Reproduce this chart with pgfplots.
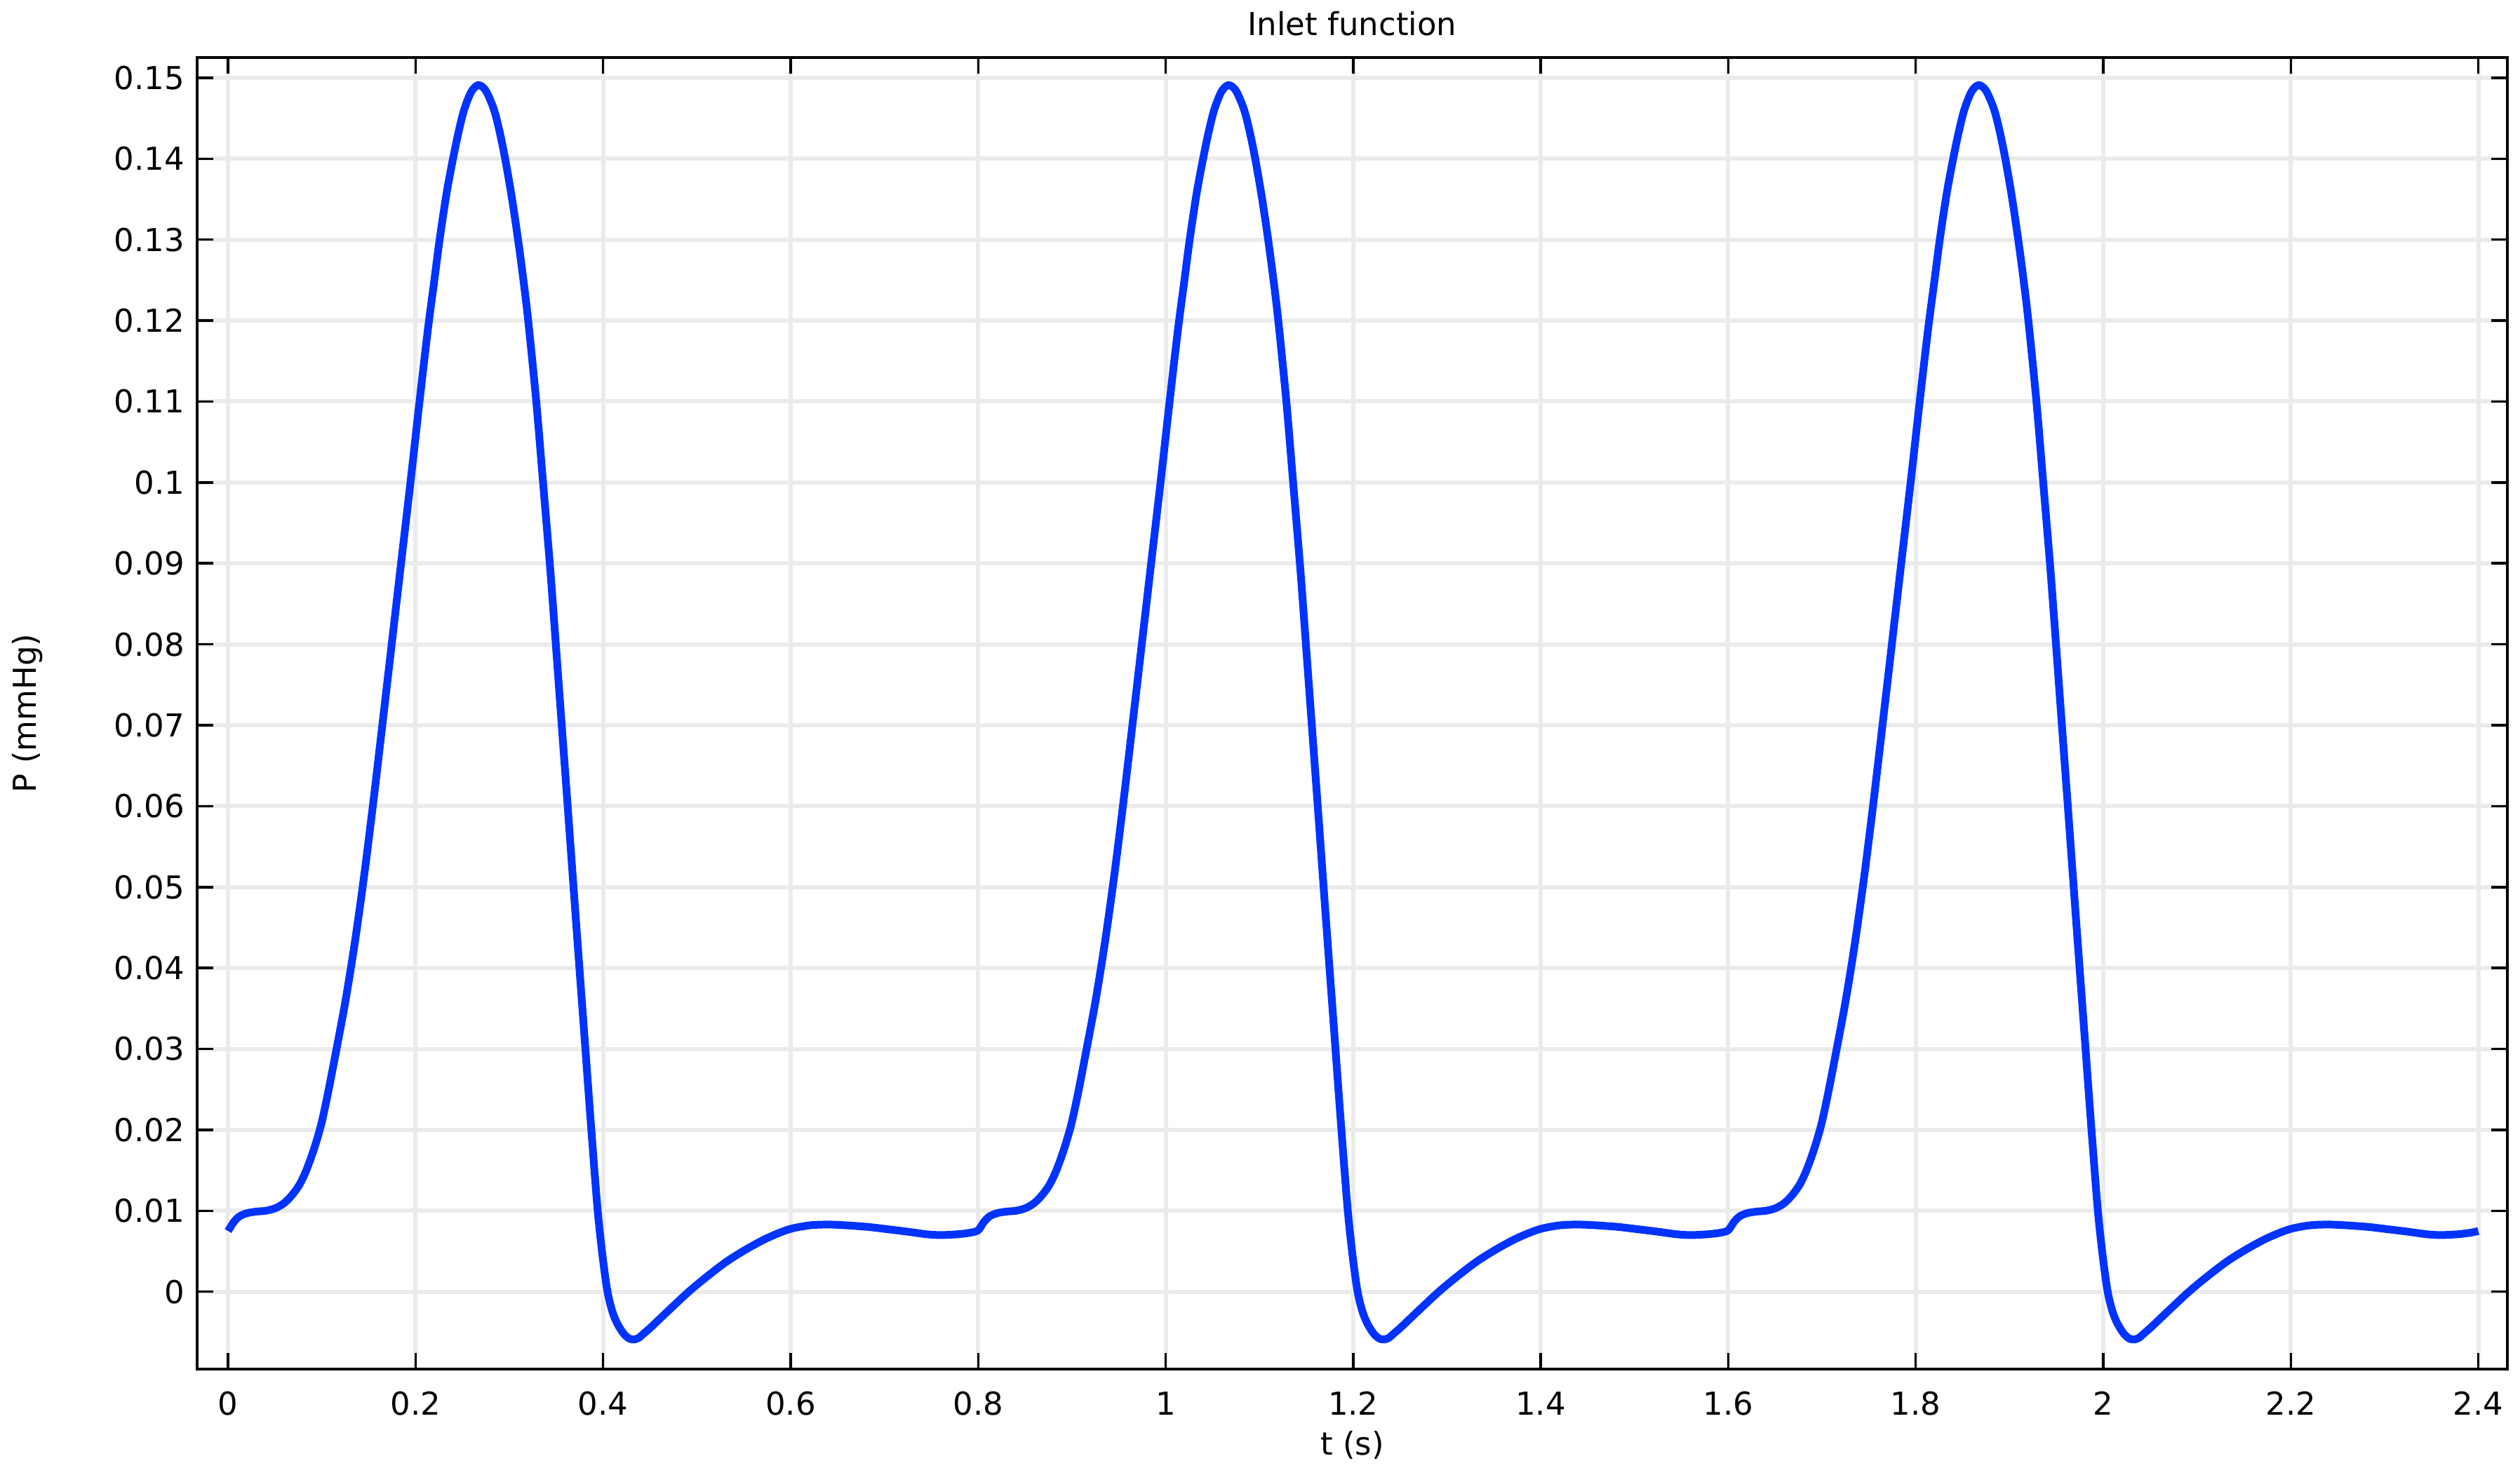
\documentclass[border=0pt]{standalone}
\usepackage{fontspec}
\setmainfont{DejaVu Sans}
\usepackage{pgfplots}
\pgfplotsset{compat=1.18}
\definecolor{curve}{RGB}{0,51,255}
\definecolor{gridc}{RGB}{235,235,235}
\begin{document}
\begin{tikzpicture}
\useasboundingbox (-56.2pt,-30.2pt) rectangle (662.2pt,390.4pt);
\begin{axis}[
  at={(0pt,0pt)}, anchor=south west,
  scale only axis, width=658.6pt, height=374pt,
  xmin=-0.033, xmax=2.431, ymin=-0.00956, ymax=0.15251,
  xtick={0,0.2,0.4,0.6,0.8,1,1.2,1.4,1.6,1.8,2,2.2,2.4},
  ytick={0,0.01,0.02,0.03,0.04,0.05,0.06,0.07,0.08,0.09,0.1,0.11,0.12,0.13,0.14,0.15},
  scaled x ticks=false, scaled y ticks=false,
  /pgf/number format/.cd, fixed, precision=2, assume math mode=true, /pgfplots/.cd,
  tick label style={font=\fontsize{9}{11}\selectfont},
  label style={font=\fontsize{9}{11}\selectfont},
  every axis title shift=0pt,
  title style={font=\fontsize{9}{11}\selectfont, at={(0.5,1.01684)}, anchor=base},
  xlabel style={at={(0.5,-0.0655)}, anchor=base},
  ylabel style={at={(-0.0735,0.5)}, anchor=center},
  xticklabel style={anchor=base, yshift=-13.2pt},
  yticklabel style={anchor=east, inner sep=0pt, xshift=-3.4pt},
  title={Inlet function},
  xlabel={t (s)},
  ylabel={P (mmHg)},
  grid=major,
  major grid style={gridc, line width=1.2pt},
  axis line style={line width=0.7pt},
  every tick/.style={black, line width=0.7pt},
  major tick length=4.6pt,
  tick align=inside,
]
\addplot[curve, line width=2.2pt, smooth, tension=0.5] table[row sep=\\] {
t P \\
0.000 0.0075 \\ 0.006 0.0086 \\ 0.012 0.0093 \\ 0.020 0.0097 \\ 0.030 0.0099 \\
0.040 0.0100 \\ 0.050 0.0103 \\ 0.058 0.0108 \\ 0.064 0.0114 \\ 0.070 0.0122 \\
0.076 0.0132 \\ 0.082 0.0146 \\ 0.088 0.0164 \\ 0.094 0.0185 \\ 0.100 0.0210 \\
0.107 0.0248 \\ 0.115 0.0296 \\ 0.125 0.0358 \\ 0.135 0.0430 \\ 0.145 0.0513 \\
0.155 0.0606 \\ 0.165 0.0705 \\ 0.175 0.0805 \\ 0.185 0.0905 \\ 0.195 0.1005 \\
0.204 0.1098 \\ 0.213 0.1188 \\ 0.220 0.1250 \\ 0.2256 0.1300 \\ 0.2330 0.1357 \\
0.2399 0.1400 \\ 0.2460 0.1434 \\ 0.2519 0.1461 \\ 0.2595 0.1483 \\ 0.2671 0.1491 \\
0.2750 0.1484 \\ 0.2835 0.1461 \\ 0.2895 0.1434 \\ 0.2955 0.1400 \\ 0.3025 0.1353 \\
0.3093 0.1300 \\ 0.3150 0.1250 \\ 0.3201 0.1200 \\ 0.3287 0.1100 \\ 0.3355 0.1006 \\
0.3436 0.0893 \\ 0.3500 0.0793 \\ 0.3551 0.0712 \\ 0.3620 0.0603 \\ 0.3683 0.0502 \\
0.3746 0.0402 \\ 0.3809 0.0303 \\ 0.3871 0.0205 \\ 0.3940 0.0103 \\ 0.3995 0.0043 \\
0.4047 0.0000 \\ 0.4100 -0.0025 \\ 0.4154 -0.0040 \\ 0.4220 -0.0052 \\ 0.4280 -0.0058 \\
0.4330 -0.0059 \\ 0.4380 -0.0057 \\ 0.4440 -0.0051 \\ 0.4500 -0.0045 \\ 0.4600 -0.0034 \\
0.4700 -0.0023 \\ 0.4913 0.0000 \\ 0.5100 0.0018 \\ 0.5314 0.0037 \\ 0.5520 0.0052 \\
0.5744 0.0066 \\ 0.5980 0.0077 \\ 0.6200 0.0082 \\ 0.6400 0.0083 \\ 0.6600 0.0082 \\
0.6830 0.0080 \\ 0.7050 0.0077 \\ 0.7260 0.0074 \\ 0.7450 0.0071 \\ 0.7600 0.0070 \\
0.7780 0.0071 \\ 0.7920 0.0073 \\
0.800 0.0076 \\ 0.806 0.0086 \\ 0.812 0.0093 \\ 0.820 0.0097 \\ 0.830 0.0099 \\
0.840 0.0100 \\ 0.850 0.0103 \\ 0.858 0.0108 \\ 0.864 0.0114 \\ 0.870 0.0122 \\
0.876 0.0132 \\ 0.882 0.0146 \\ 0.888 0.0164 \\ 0.894 0.0185 \\ 0.900 0.0210 \\
0.907 0.0248 \\ 0.915 0.0296 \\ 0.925 0.0358 \\ 0.935 0.0430 \\ 0.945 0.0513 \\
0.955 0.0606 \\ 0.965 0.0705 \\ 0.975 0.0805 \\ 0.985 0.0905 \\ 0.995 0.1005 \\
1.004 0.1098 \\ 1.013 0.1188 \\ 1.020 0.1250 \\ 1.0256 0.1300 \\ 1.0330 0.1357 \\
1.0399 0.1400 \\ 1.0460 0.1434 \\ 1.0519 0.1461 \\ 1.0595 0.1483 \\ 1.0671 0.1491 \\
1.0750 0.1484 \\ 1.0835 0.1461 \\ 1.0895 0.1434 \\ 1.0955 0.1400 \\ 1.1025 0.1353 \\
1.1093 0.1300 \\ 1.1150 0.1250 \\ 1.1201 0.1200 \\ 1.1287 0.1100 \\ 1.1355 0.1006 \\
1.1436 0.0893 \\ 1.1500 0.0793 \\ 1.1551 0.0712 \\ 1.1620 0.0603 \\ 1.1683 0.0502 \\
1.1746 0.0402 \\ 1.1809 0.0303 \\ 1.1871 0.0205 \\ 1.1940 0.0103 \\ 1.1995 0.0043 \\
1.2047 0.0000 \\ 1.2100 -0.0025 \\ 1.2154 -0.0040 \\ 1.2220 -0.0052 \\ 1.2280 -0.0058 \\
1.2330 -0.0059 \\ 1.2380 -0.0057 \\ 1.2440 -0.0051 \\ 1.2500 -0.0045 \\ 1.2600 -0.0034 \\
1.2700 -0.0023 \\ 1.2913 0.0000 \\ 1.3100 0.0018 \\ 1.3314 0.0037 \\ 1.3520 0.0052 \\
1.3744 0.0066 \\ 1.3980 0.0077 \\ 1.4200 0.0082 \\ 1.4400 0.0083 \\ 1.4600 0.0082 \\
1.4830 0.0080 \\ 1.5050 0.0077 \\ 1.5260 0.0074 \\ 1.5450 0.0071 \\ 1.5600 0.0070 \\
1.5780 0.0071 \\ 1.5920 0.0073 \\
1.600 0.0076 \\ 1.606 0.0086 \\ 1.612 0.0093 \\ 1.620 0.0097 \\ 1.630 0.0099 \\
1.640 0.0100 \\ 1.650 0.0103 \\ 1.658 0.0108 \\ 1.664 0.0114 \\ 1.670 0.0122 \\
1.676 0.0132 \\ 1.682 0.0146 \\ 1.688 0.0164 \\ 1.694 0.0185 \\ 1.700 0.0210 \\
1.707 0.0248 \\ 1.715 0.0296 \\ 1.725 0.0358 \\ 1.735 0.0430 \\ 1.745 0.0513 \\
1.755 0.0606 \\ 1.765 0.0705 \\ 1.775 0.0805 \\ 1.785 0.0905 \\ 1.795 0.1005 \\
1.804 0.1098 \\ 1.813 0.1188 \\ 1.820 0.1250 \\ 1.8256 0.1300 \\ 1.8330 0.1357 \\
1.8399 0.1400 \\ 1.8460 0.1434 \\ 1.8519 0.1461 \\ 1.8595 0.1483 \\ 1.8671 0.1491 \\
1.8750 0.1484 \\ 1.8835 0.1461 \\ 1.8895 0.1434 \\ 1.8955 0.1400 \\ 1.9025 0.1353 \\
1.9093 0.1300 \\ 1.9150 0.1250 \\ 1.9201 0.1200 \\ 1.9287 0.1100 \\ 1.9355 0.1006 \\
1.9436 0.0893 \\ 1.9500 0.0793 \\ 1.9551 0.0712 \\ 1.9620 0.0603 \\ 1.9683 0.0502 \\
1.9746 0.0402 \\ 1.9809 0.0303 \\ 1.9871 0.0205 \\ 1.9940 0.0103 \\ 1.9995 0.0043 \\
2.0047 0.0000 \\ 2.0100 -0.0025 \\ 2.0154 -0.0040 \\ 2.0220 -0.0052 \\ 2.0280 -0.0058 \\
2.0330 -0.0059 \\ 2.0380 -0.0057 \\ 2.0440 -0.0051 \\ 2.0500 -0.0045 \\ 2.0600 -0.0034 \\
2.0700 -0.0023 \\ 2.0913 0.0000 \\ 2.1100 0.0018 \\ 2.1314 0.0037 \\ 2.1520 0.0052 \\
2.1744 0.0066 \\ 2.1980 0.0077 \\ 2.2200 0.0082 \\ 2.2400 0.0083 \\ 2.2600 0.0082 \\
2.2830 0.0080 \\ 2.3050 0.0077 \\ 2.3260 0.0074 \\ 2.3450 0.0071 \\ 2.3600 0.0070 \\
2.3780 0.0071 \\ 2.3920 0.0073 \\ 2.4000 0.0075 \\
};
\end{axis}
\end{tikzpicture}
\end{document}
